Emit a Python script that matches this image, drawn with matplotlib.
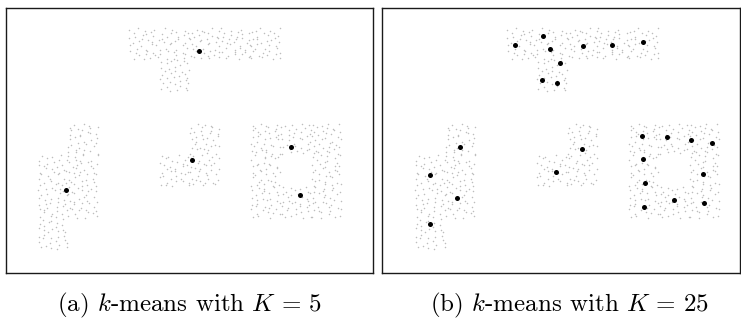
import matplotlib
matplotlib.use("Agg")
import matplotlib.pyplot as plt

# data lives in "block" units: every shape is built from unit squares on a grid
# (col, row) -> 10x10 tile, digit = one point, digit value = position inside the cell (keypad layout)
T_TILES = {
    (3, 0): ["4..7.2..5.", ".6...3.8..", "..1.9...4.", "7...5.2..3", ".2.8...6..",
             "5...1..9.4", "..6..3....", "8.2...7.1.", "...5.9..6.", ".3...1.4.8"],
    (4, 0): [".9..4...2.", "3..6.8...5", "..2...1.7.", "6.....4..9", ".5.3.7..2.",
             "...8...6..", "1.4..2...7", "..9.6..3..", "7....5..8.", "..2.3...4."],
    (5, 0): ["..5.1..8.3", "6...9.4...", ".2.7...5.1", "4..3.6...8", "...8..2.6.",
             "9.1...7..3", ".4..5...2.", "..7.3.9..6", "2.....1.4.", ".8.6..5..9"],
    (6, 0): ["7..2..6...", ".4...9.1.5", "3..8.2....", "..6..4.7.2", "8.1.5...3.",
             "...7..2..6", ".9..3.8.1.", "5...6...4.", "..2.9..7.3", ".6....1..8"],
    (7, 0): [".3.7..2..9", "8...5..6..", "..1..9...4", "6.4...3.7.", "...2.8...5",
             "1.7...4.2.", ".5..6...9.", "9...1.7..3", "..3..5..8.", "4..9...2.6"],
    (4, 1): ["2..6.9..4.", "..8...3..7", "5..1.7....", ".6...4.2.9", "3..9....5.",
             "..2.6.8..1", "7.....3.6.", ".4.8.1...5", "..5...9.3.", "8..2.6...4"],
}
L_TILES = {
    (1, 3): ["..4..8.1..", "6..2...5.9", ".7..9.3...", "3...1..8.4", "..5.7....2",
             "9....2.6..", ".1.8..4..7", "4..3....9.", "..6..5.2..", "7.9..1...3"],
    (0, 4): [".5..3..9..", "2..7...4.6", "...1.8....", "8.4...2.7.", "..9.6...3.",
             "3....5.1.8", ".7.2..9...", "5...4...6.", "..1.8.3..2", "6.....7.4."],
    (1, 4): ["4.2..7...9", "..6.1..3..", "8...5.9..2", ".3.7...6..", "..9..2..8.",
             "5.1.4...3.", "...6..8..7", "2.8...1.5.", ".4..9...6.", "..7.3.5..1"],
    (0, 5): ["..3.6..2..", "7....9..5.", ".1.4...8.3", "5...2.6...", "..8...3.9.",
             "2.6.7....4", "...1..5.8.", "9.4...2..6", "..7.3...1.", "6...8.4..."],
    (1, 5): ["8..5...3..", ".2..9.6..4", "4.7...1...", "...3.8..9.", "6.1...5..2",
             "..4.9..7..", "3...2...6.", ".8.6..4..1", "..2...9.5.", "7..1.3...8"],
    (0, 6): [".6..2...8.", "3..9..5...", "..4...1.7.", "8.1.6...2.", "...5..9..4",
             "2.7...3.6.", ".9..8....1", "5...1.7..3", "..3....4..", ".7..5.2..9"],
}
BLOB_TILES = {
    (5, 3): ["..9..4.1..", "5...7..8.3", ".2.6...4..", "7...1.9..5", "..4..3...8",
             "9.1.8..6..", ".6...5..2.", "3..2...7.9", "..8.9.4...", "1....6..3."],
    (4, 4): ["6.3...8..2", "..7.1...5.", "4....9.3..", ".8.2...6.7", "..5..4....",
             "3..9.7.1.5", ".1...2..8.", "7..6...4..", "..2..8.9.3", "5.4.1....6"],
    (5, 4): [".4..7..2..", "8..1..5..9", "..6.3...4.", "2....8.7..", ".9.5...1.6",
             "4..7.2....", "..3..6..9.", "6.1...4..2", "...8.1.3..", ".7..5...8."],
}
SQUARE_TILES = {
    (7, 3): ["3..8.1..6.", ".5...9..2.", "9.2.6...4.", "...4..7..1", "6.8...2.5.",
             "..1.9....7", "4...5.3...", ".7.2...8.6", "2..6.4....", ".9...7.1.3"],
    (8, 3): [".1.5..9..4", "7...3..6..", "..8...2..9", "4.2.7....5", "...6..1.8.",
             "8.5...9..2", ".3..4...6.", "6...8.2...", "..9..1..57", "2..7...4.."],
    (9, 3): ["5..2.8...7", ".9...4.1..", "3..6...8.2", "..1.9.5...", "7...2...6.",
             ".4.8..3..9", "..5...7.1.", "9..3.6...4", ".2...1.8..", "6.7..9..3."],
    (7, 4): [".8..3.6..1", "4...9...7.", "..2.5.1...", "6.7...8.3.", "...1.4..9.",
             "3..8...2.6", ".5...7..1.", "9..2.3....", "..6...9.4.", "1.4.8..2.5"],
    (9, 4): ["2..7.4...8", ".6...1.9..", "..3.8...5.", "7...2..6.4", ".1.9...3..",
             "5....6..8.", "..8.3.1..7", "4.2...9...", ".7..5...2.", "3...8.6..9"],
    (7, 5): ["..6.2..9..", "8...5...3.", ".3.9..7..1", "5...1.2...", "..7..8..6.",
             "2.4...3..9", ".9..6.1...", "7...4...8.", "..1..9.5.3", "6.8...2..."],
    (8, 5): ["9..4..1.7.", ".2..8...3.", "6..1.5...8", "..7...9.2.", "3.5.2...6.",
             "...8..4..1", "8.1...7.5.", ".6..9...3.", "2...3.8...", ".4.7...1.6"],
    (9, 5): [".7..1..4..", "3..6..9..2", "..8.2...5.", "5...7.4...", ".1.3...8.6",
             "8...9.2...", "..4..6..3.", "6.2...1..9", "...7.3....", "4..1...6.8"],
}

# cluster centres (block units, y grows downwards)
centers_k5_x = [5.31, 0.96, 5.08, 8.34, 8.62]
centers_k5_y = [0.74, 5.10, 4.17, 3.74, 5.27]
centers_k25_x = [3.30, 4.22, 4.43, 4.78, 4.19, 4.66, 5.52, 6.48, 7.50,
                 1.50, 0.50, 1.39, 0.51, 5.48, 4.64,
                 7.45, 8.28, 9.07, 9.74, 7.48, 9.45, 7.56, 8.51, 9.49, 7.51]
centers_k25_y = [0.54, 0.24, 0.67, 1.09, 1.63, 1.74, 0.56, 0.55, 0.45,
                 3.75, 4.63, 5.35, 6.19, 3.83, 4.53,
                 3.42, 3.44, 3.52, 3.64, 4.13, 4.60, 4.89, 5.43, 5.51, 5.66]

captions = [r"(a) $k$-means with $K\,=\,5$", r"(b) $k$-means with $K\,=\,25$"]


def tile_points(tiles):
    xs, ys = [], []
    for (col, row), lines in tiles.items():
        for r, line in enumerate(lines):
            for c, ch in enumerate(line):
                if ch.isdigit():
                    d = int(ch) - 1
                    dx = (d % 3 - 1) * 0.33
                    dy = (1 - d // 3) * 0.33
                    xs.append(col + (c + 0.5 + dx) / 10)
                    ys.append(row + (r + 0.5 + dy) / 10)
    return xs, ys


pts_x, pts_y = [], []
for t in (T_TILES, L_TILES, BLOB_TILES, SQUARE_TILES):
    px, py = tile_points(t)
    pts_x += px
    pts_y += py

plt.rcParams['mathtext.fontset'] = 'cm'
plt.rcParams['axes.formatter.use_mathtext'] = True

fig = plt.figure(figsize=(7.41, 3.26), dpi=100)

# panel placement in figure fractions
ax_a = fig.add_axes([0.0077, 0.1626, 0.4961, 0.8129])
ax_b = fig.add_axes([0.5155, 0.1626, 0.4835, 0.8129])

panels = [
    (ax_a, centers_k5_x, centers_k5_y, (-1.03, 11.03)),
    (ax_b, centers_k25_x, centers_k25_y, (-1.07, 10.68)),
]
for ax, cx, cy, xl in panels:
    ax.scatter(pts_x, pts_y, s=1.2, c='#bdbdbd', linewidths=0)
    ax.scatter(cx, cy, s=13, c='black', linewidths=0, zorder=3)
    ax.set_xlim(*xl)
    ax.set_ylim(7.73, -0.63)
    ax.set_xticks([])
    ax.set_yticks([])
    for sp in ax.spines.values():
        sp.set_linewidth(1.0)
        sp.set_color('#1a1a1a')

fig.text(0.2557, 0.046, captions[0], ha='center', va='baseline', fontsize=18, family='cmr10')
fig.text(0.768, 0.046, captions[1], ha='center', va='baseline', fontsize=18, family='cmr10')

fig.savefig("out.png", dpi=100)
